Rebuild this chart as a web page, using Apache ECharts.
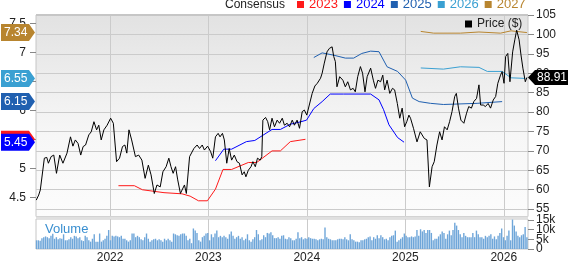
<!DOCTYPE html>
<html><head><meta charset="utf-8">
<script src="https://cdn.jsdelivr.net/npm/echarts@6/dist/echarts.min.js"></script>
<style>html,body{margin:0;padding:0;background:#fff}#c{width:568px;height:264px}</style>
</head><body><div id="c"></div>
<script>
const FONT = '"Liberation Sans", Arial, Helvetica, sans-serif';

// ---- tick labels ----
const yearTicks = ['2022-01-01','2023-01-01','2024-01-01','2025-01-01','2026-01-01'];
const priceTicks = [55,60,65,70,75,80,85,90,95,100,105];
const epsTicks = [4.5,5,5.5,6,6.5,7,7.5];
const volTicksA = [0,10];
const volTicksB = [5,15];
const xStart = '2021-04-01', xEnd = '2026-04-01';

// ---- price (right axis) ----
const priceDates = [
'2021-04-02','2021-04-11','2021-04-17','2021-05-02','2021-05-11','2021-05-17','2021-05-27','2021-06-06','2021-06-16','2021-06-28',
'2021-07-10','2021-07-25','2021-08-07','2021-08-16','2021-08-25','2021-09-04','2021-09-14','2021-09-23','2021-10-02','2021-10-14',
'2021-10-23','2021-11-02','2021-11-12','2021-11-20','2021-11-29','2021-12-09','2021-12-21','2022-01-03','2022-01-13','2022-01-25',
'2022-02-05','2022-02-16','2022-02-25','2022-03-04','2022-03-12','2022-03-22','2022-04-05','2022-04-17','2022-04-29','2022-05-11',
'2022-05-23','2022-06-02','2022-06-14','2022-06-24','2022-07-06','2022-07-16','2022-07-28','2022-08-07','2022-08-15','2022-08-23',
'2022-09-01','2022-09-09','2022-09-19','2022-09-25','2022-10-04','2022-10-11','2022-10-23','2022-11-08','2022-11-20','2022-11-29',
'2022-12-09','2022-12-17','2022-12-29','2023-01-09','2023-01-17','2023-01-27','2023-02-06','2023-02-13','2023-02-22','2023-03-01',
'2023-03-10','2023-03-19','2023-03-28','2023-04-07','2023-04-17','2023-04-26','2023-05-06','2023-05-14','2023-05-20','2023-05-29',
'2023-06-08','2023-06-15','2023-06-24','2023-07-02','2023-07-12','2023-07-18','2023-07-22','2023-08-01','2023-08-09','2023-08-16',
'2023-08-25','2023-09-03','2023-09-13','2023-09-22','2023-10-02','2023-10-10','2023-10-20','2023-10-29','2023-11-08','2023-11-16',
'2023-11-26','2023-12-05','2023-12-15','2023-12-23','2024-01-01','2024-01-08','2024-01-21','2024-01-31','2024-02-09','2024-02-15',
'2024-02-21','2024-02-27','2024-03-06','2024-03-16','2024-03-25','2024-04-04','2024-04-10','2024-04-16','2024-04-22','2024-05-02',
'2024-05-14','2024-05-23','2024-06-01','2024-06-11','2024-06-21','2024-06-29','2024-07-08','2024-07-18','2024-07-26','2024-08-04',
'2024-08-12','2024-08-25','2024-09-04','2024-09-12','2024-09-21','2024-10-01','2024-10-09','2024-10-16','2024-10-25','2024-11-04',
'2024-11-14','2024-11-22','2024-12-02','2024-12-11','2024-12-20','2024-12-29','2025-01-06','2025-01-14','2025-01-20','2025-01-31',
'2025-02-13','2025-02-25','2025-03-04','2025-03-12','2025-03-22','2025-03-31','2025-04-10','2025-04-18','2025-04-28','2025-05-08',
'2025-05-17','2025-05-26','2025-06-05','2025-06-14','2025-06-23','2025-07-03','2025-07-09','2025-07-17','2025-07-26','2025-08-06',
'2025-08-16','2025-08-24','2025-09-03','2025-09-12','2025-09-22','2025-10-01','2025-10-07','2025-10-17','2025-10-25','2025-11-04',
'2025-11-13','2025-11-23','2025-12-02','2025-12-10','2025-12-20','2025-12-26','2026-01-02','2026-01-08','2026-01-16','2026-01-24',
'2026-02-03','2026-02-11','2026-02-18','2026-02-27','2026-03-06','2026-03-13','2026-03-22','2026-03-28'
];
const priceValues = [
57.3,58.6,59.9,68.1,68.3,66.8,68.5,68.9,64.2,68.9,
66.8,69.4,73.6,71.2,72.8,71.9,68.9,71.1,71.5,74.1,
74.9,77.5,75.4,76.6,72.8,75.4,76.6,78.4,77.1,67.2,
68.1,71.1,71.5,69.4,75.4,72.8,68.5,68.9,67.6,62.9,
66.3,63.8,59.0,61.2,60.7,64.6,65.9,68.1,65.9,64.2,
65.9,62.5,59.0,58.6,61.2,59.0,68.5,70.6,71.5,70.6,
71.5,70.2,71.2,69.8,68.1,73.6,74.5,73.6,74.5,72.8,
66.8,70.6,67.6,68.9,67.2,66.8,63.8,64.6,63.3,65.0,
65.9,67.2,65.9,68.1,67.6,68.5,77.9,78.6,77.5,75.4,
78.4,76.2,77.9,77.1,78.4,76.6,77.1,76.2,77.9,76.6,
77.9,75.8,80.1,80.5,79.2,79.2,84.8,86.7,87.4,87.0,
88.7,90.0,92.6,95.5,96.4,96.8,94.3,93.0,86.5,89.1,
88.2,86.5,87.8,85.7,86.1,85.2,89.1,91.7,90.0,85.2,
89.1,91.3,88.2,86.1,88.2,87.8,89.5,85.7,88.2,84.8,
86.1,85.7,82.2,78.4,81.0,76.2,77.5,79.2,78.4,75.8,
72.3,74.9,75.4,73.2,72.8,60.7,65.9,67.2,71.5,74.9,
72.8,76.2,75.4,77.5,80.1,84.0,84.8,81.0,77.9,77.1,
79.7,81.4,81.0,82.7,83.5,87.0,81.8,81.8,81.4,82.2,
81.0,83.1,84.0,87.4,89.5,90.4,87.4,94.3,95.1,87.8,
95.5,98.6,101.1,98.6,94.7,91.3,87.8,88.91
];

// ---- consensus EPS (left axis) ----
const eps2023Dates = ['2022-02-01','2022-04-01','2022-05-01','2022-07-20','2022-09-25','2022-10-25','2022-11-25','2022-12-28','2023-01-27','2023-02-24','2023-03-28','2023-05-29','2023-06-29','2023-08-25','2023-09-25','2023-11-01','2023-12-27'];
const eps2023Values = [4.70,4.70,4.63,4.58,4.56,4.52,4.44,4.44,4.64,4.98,4.98,5.10,5.10,5.30,5.30,5.46,5.50];
const eps2024Dates = ['2023-01-27','2023-02-27','2023-03-28','2023-05-22','2023-06-22','2023-08-25','2023-09-25','2023-11-01','2023-12-08','2023-12-31','2024-01-27','2024-02-27','2024-03-28','2024-05-16','2024-08-25','2024-09-25','2024-10-12','2024-11-01','2024-12-03','2024-12-27'];
const eps2024Values = [5.13,5.33,5.33,5.46,5.48,5.67,5.67,5.76,5.80,5.83,6.03,6.15,6.28,6.28,6.28,6.18,6.01,5.75,5.53,5.45];
const eps2025Dates = ['2024-01-27','2024-02-27','2024-04-10','2024-05-23','2024-06-23','2024-07-23','2024-08-25','2024-09-25','2024-10-25','2024-12-03','2025-01-02','2025-01-27','2025-02-21','2025-04-04','2025-05-22','2025-09-24','2025-12-26'];
const eps2025Values = [6.91,6.99,6.95,6.90,6.90,6.98,7.02,7.01,6.75,6.67,6.52,6.21,6.15,6.12,6.10,6.12,6.15];
const eps2026Dates = ['2025-02-27','2025-05-22','2025-07-24','2025-10-01','2025-11-01','2025-12-26','2026-01-28','2026-03-22'];
const eps2026Values = [6.73,6.71,6.75,6.74,6.67,6.67,6.56,6.55];
const eps2027Dates = ['2025-02-27','2025-04-16','2025-07-24','2025-10-01','2025-12-20','2026-01-28','2026-03-28'];
const eps2027Values = [7.36,7.33,7.33,7.35,7.33,7.37,7.34];

// ---- weekly volume (thousands) ----
const volStart = '2021-04-03', volEnd = '2026-03-28';
const volumeValues = [
4.5,4.5,4.2,5.6,6.1,6.5,6.1,5.6,6.8,7.9,5.3,6.1,5.0,5.6,5.3,7.6,4.5,4.5,5.0,6.1,5.3,
6.8,6.5,5.6,6.1,4.5,4.1,6.8,6.1,4.5,3.8,5.3,7.6,3.8,3.8,8.0,3.8,4.5,5.3,6.8,9.8,
4.5,6.8,6.5,6.8,6.5,6.1,6.8,5.3,5.3,4.5,3.8,4.5,8.0,8.0,6.1,6.8,6.1,5.0,4.5,6.1,8.0,
5.3,3.8,4.5,5.0,5.3,4.5,5.0,4.5,3.8,5.3,4.5,5.3,4.5,3.8,8.0,7.6,7.1,6.8,7.6,8.0,
8.0,6.8,4.5,5.3,3.0,10.6,9.5,8.3,4.5,3.8,6.1,6.8,8.0,8.3,4.5,7.6,6.1,8.0,9.5,6.1,6.8,6.1,
6.8,6.1,5.3,7.6,9.1,6.8,5.3,6.1,6.8,5.3,6.1,4.5,5.3,7.6,4.5,3.8,5.0,6.1,9.8,7.6,4.5,
5.0,7.1,6.1,8.3,
8.0,8.6,7.1,5.6,5.6,6.1,5.3,6.8,7.1,5.3,5.0,6.1,5.6,4.5,4.5,5.3,8.6,5.6,6.1,5.0,5.6,
5.3,6.1,5.6,5.3,5.3,5.0,4.5,5.0,5.3,5.0,11.1,6.1,5.3,5.0,4.5,4.5,4.5,5.0,5.3,5.3,5.0,
6.1,5.0,4.5,7.6,5.0,4.5,3.8,3.8,3.5,4.5,4.5,5.0,5.3,6.1,6.5,4.5,6.1,5.3,7.1,5.6,7.1,6.1,5.0,
5.3,4.5,6.1,6.8,7.1,9.5,3.8,4.5,5.3,6.1,8.0,6.8,6.1,6.1,6.5,6.1,6.5,9.8,6.8,10.2,9.1,9.8,8.3,9.8,
9.8,8.3,4.5,5.3,5.3,6.5,7.6,9.1,8.3,5.3,7.6,9.5,7.1,9.8,13.6,12.1,9.8,7.6,6.1,8.3,6.8,6.1,6.1,6.1,
8.3,6.1,9.5,7.6,6.1,6.1,5.3,6.8,6.1,6.8,7.6,5.3,6.5,5.0,6.8,8.3,10.6,6.1,4.5,6.8,9.5,4.5,15.2,12.1,
9.1,6.8,6.1,7.1,7.6,11.4,6.1
];

const ts = d => Date.parse(d);
const zip = (d, v) => d.map((x, i) => [ts(x), v[i]]);
const t0 = ts(volStart), t1 = ts(volEnd);
const volumeData = volumeValues.map((v, i) => [t0 + (t1 - t0) * i / (volumeValues.length - 1), v]);
const yearTickTs = yearTicks.map(ts);

const C2023 = '#ff1a1a', C2024 = '#0000ff', C2025 = '#2060b0', C2026 = '#3aa0d2', C2027 = '#b8852f';

const chart = echarts.init(document.getElementById('c'), null, {renderer: 'canvas'});

const gridLine = {show: true, lineStyle: {color: '#cbcbcb', width: 1}};
const axisText = {fontSize: 12, color: '#222', fontFamily: FONT, hideOverlap: false, showMinLabel: true, showMaxLabel: true};
const volFmt = v => v === 0 ? '0' : v + 'k';
const volAxis = ticks => ({type: 'value', gridIndex: 1, position: 'right', min: 0, max: 15.5,
  axisLine: {show: false}, splitLine: {show: false},
  axisTick: {show: true, length: 6, customValues: ticks, lineStyle: {color: '#888'}},
  axisLabel: Object.assign({customValues: ticks, margin: 8, formatter: volFmt}, axisText)});
const option = {
  animation: false,
  textStyle: {fontFamily: FONT},
  grid: [
    {left: 36, right: 40, top: 15, height: 201.5, show: true, borderColor: '#c6c6c6', borderWidth: 1,
     backgroundColor: new echarts.graphic.LinearGradient(0, 0, 0, 1, [
       {offset: 0, color: '#e2e2e2'}, {offset: 0.6, color: '#f7f7f7'}, {offset: 1, color: '#fcfcfc'}])},
    {left: 36, right: 40, top: 219, height: 34.5, show: true, borderColor: '#c6c6c6', borderWidth: 1, backgroundColor: '#ffffff'}
  ],
  xAxis: [
    {type: 'value', gridIndex: 0, min: ts(xStart), max: ts(xEnd), axisLine: {show: false},
     axisTick: {show: false, customValues: yearTickTs},
     axisLabel: {show: false, customValues: yearTickTs}, splitLine: gridLine},
    {type: 'value', gridIndex: 1, min: ts(xStart), max: ts(xEnd), axisLine: {show: false},
     axisTick: {show: false, customValues: yearTickTs},
     axisLabel: Object.assign({show: true, customValues: yearTickTs, margin: 3,
       formatter: v => String(new Date(v).getUTCFullYear())}, axisText), splitLine: gridLine}
  ],
  yAxis: [
    {type: 'value', gridIndex: 0, position: 'left', min: 4.169, max: 7.643,
     axisLine: {show: false}, splitLine: {show: false},
     axisTick: {show: true, length: 6, customValues: epsTicks, lineStyle: {color: '#888'}},
     axisLabel: Object.assign({customValues: epsTicks, margin: 10}, axisText)},
    {type: 'value', gridIndex: 0, position: 'right', min: 53.07, max: 105,
     axisLine: {show: false},
     axisTick: {show: true, length: 6, customValues: priceTicks, lineStyle: {color: '#888'}},
     axisLabel: Object.assign({customValues: priceTicks, margin: 8}, axisText),
     splitLine: gridLine},
    volAxis(volTicksA),
    volAxis(volTicksB)
  ],
  legend: [
    {data: [
      {name: '2023', textStyle: {color: C2023}}, {name: '2024', textStyle: {color: C2024}},
      {name: '2025', textStyle: {color: C2025}}, {name: '2026', textStyle: {color: C2026}},
      {name: '2027', textStyle: {color: C2027}}],
     left: 297, top: -2, padding: 0, icon: 'rect', itemWidth: 7, itemHeight: 7, itemGap: 6, selectedMode: false,
     textStyle: {fontSize: 13, fontFamily: FONT}},
    {data: ['Price ($)'], left: 465, top: 18, padding: 0, icon: 'rect', itemWidth: 7, itemHeight: 7, selectedMode: false,
     textStyle: {fontSize: 12, color: '#222', fontFamily: FONT}}
  ],
  series: [
    {name: '2023', type: 'line', xAxisIndex: 0, yAxisIndex: 0, data: zip(eps2023Dates, eps2023Values), showSymbol: false, symbol: 'none',
     lineStyle: {color: C2023, width: 1}, itemStyle: {color: C2023}},
    {name: '2024', type: 'line', xAxisIndex: 0, yAxisIndex: 0, data: zip(eps2024Dates, eps2024Values), showSymbol: false, symbol: 'none',
     lineStyle: {color: C2024, width: 1}, itemStyle: {color: C2024}},
    {name: '2025', type: 'line', xAxisIndex: 0, yAxisIndex: 0, data: zip(eps2025Dates, eps2025Values), showSymbol: false, symbol: 'none',
     lineStyle: {color: C2025, width: 1}, itemStyle: {color: C2025}},
    {name: '2026', type: 'line', xAxisIndex: 0, yAxisIndex: 0, data: zip(eps2026Dates, eps2026Values), showSymbol: false, symbol: 'none',
     lineStyle: {color: C2026, width: 1}, itemStyle: {color: C2026}},
    {name: '2027', type: 'line', xAxisIndex: 0, yAxisIndex: 0, data: zip(eps2027Dates, eps2027Values), showSymbol: false, symbol: 'none',
     lineStyle: {color: C2027, width: 1}, itemStyle: {color: C2027}},
    {name: 'Price ($)', type: 'line', xAxisIndex: 0, yAxisIndex: 1, data: zip(priceDates, priceValues), showSymbol: false, symbol: 'none',
     lineStyle: {color: '#000', width: 1}, itemStyle: {color: '#000'}, z: 5},
    {name: 'Volume', type: 'bar', xAxisIndex: 1, yAxisIndex: 2, data: volumeData, barWidth: 1.4,
     itemStyle: {color: '#6fa6d9'}}
  ]
};
chart.setOption(option);

// tags (built from last data values through the axis scales)
const epsTags = [
  {v: eps2023Values[eps2023Values.length - 1], c: C2023},
  {v: eps2024Values[eps2024Values.length - 1], c: C2024},
  {v: eps2025Values[eps2025Values.length - 1], c: C2025},
  {v: eps2026Values[eps2026Values.length - 1], c: C2026},
  {v: eps2027Values[eps2027Values.length - 1], c: C2027}
];
const H = 8.5;
const g = [];
g.push({type: 'rect', shape: {x: 36, y: 14, width: 492, height: 2}, style: {fill: '#c6c6c6'}, z: 50});
g.push({type: 'rect', shape: {x: 36, y: 216.5, width: 492, height: 2.5}, style: {fill: '#e0e0e0'}, z: 50});
g.push({type: 'text', x: 225, y: 5, style: {text: 'Consensus', fill: '#222', font: '12px ' + FONT, verticalAlign: 'middle'}, z: 50});
g.push({type: 'text', x: 45, y: 229, style: {text: 'Volume', fill: '#3a8fd0', font: '13px ' + FONT, verticalAlign: 'middle'}, z: 50});
epsTags.forEach((t, i) => {
  const y = chart.convertToPixel({yAxisIndex: 0}, t.v);
  g.push({type: 'polygon', shape: {points: [[1, y - H], [29, y - H], [35, y], [29, y + H], [1, y + H]]}, style: {fill: t.c}, z: 60 + 2 * i});
  g.push({type: 'text', x: 4, y: y, style: {text: t.v.toFixed(2), fill: '#fff', font: '12px ' + FONT, verticalAlign: 'middle'}, z: 61 + 2 * i});
});
const lastPrice = priceValues[priceValues.length - 1];
const py = chart.convertToPixel({yAxisIndex: 1}, lastPrice);
g.push({type: 'polygon', shape: {points: [[528, py], [535, py - 7.5], [568, py - 7.5], [568, py + 7.5], [535, py + 7.5]]}, style: {fill: '#000'}, z: 80});
g.push({type: 'text', x: 537, y: py, style: {text: lastPrice.toFixed(2), fill: '#fff', font: '12px ' + FONT, verticalAlign: 'middle'}, z: 81});
chart.setOption({graphic: g});
</script>
</body></html>
